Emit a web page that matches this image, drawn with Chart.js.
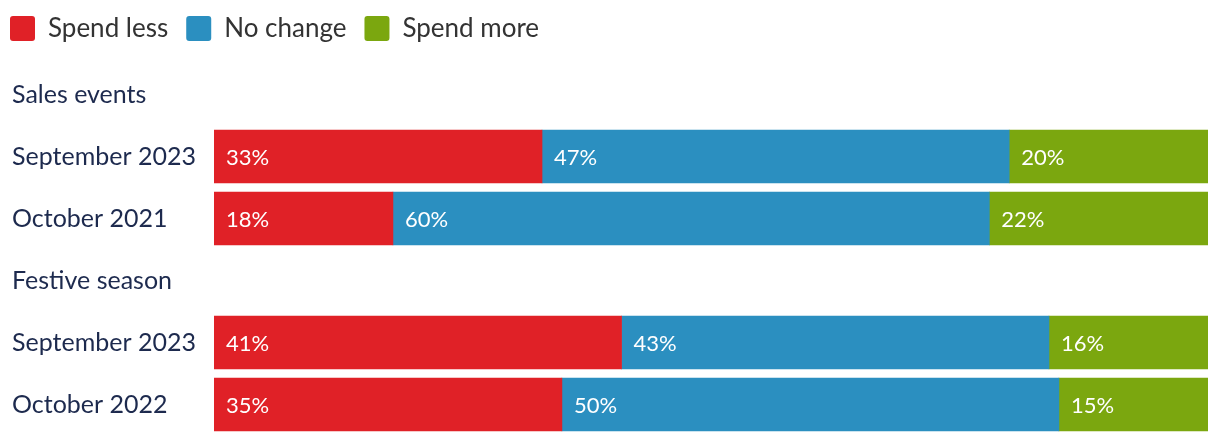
<!DOCTYPE html>
<html>
<head>
<meta charset="utf-8">
<script src="https://cdn.jsdelivr.net/npm/chart.js@4"></script>
<style>
  body { margin: 0; background: #fff; }
  #wrap { width: 1220px; height: 442px; }
</style>
</head>
<body>
<div id="wrap"><canvas id="bars"></canvas></div>
<script>
// rows: group headers have no data
var rows = ['Sales events', 'September 2023', 'October 2021', 'Festive season', 'September 2023', 'October 2022'];
var spendLess = [null, 33, 18, null, 41, 35];
var noChange = [null, 47, 60, null, 43, 50];
var spendMore = [null, 20, 22, null, 16, 15];

var FONT = 'Lato, "Noto Sans", sans-serif';

// white % labels at the left of each segment
const segLabels = {
  id: 'segLabels',
  afterDatasetsDraw(chart) {
    const c = chart.ctx;
    c.save();
    c.fillStyle = '#fff';
    c.font = '22px ' + FONT;
    c.textBaseline = 'middle';
    c.textAlign = 'left';
    chart.data.datasets.forEach((ds, i) => {
      chart.getDatasetMeta(i).data.forEach((bar, j) => {
        if (ds.data[j] == null) return;
        c.fillText(ds.data[j] + '%', Math.min(bar.base, bar.x) + 12, bar.y + 1);
      });
    });
    c.restore();
  }
};

// pull the legend back to the top-left corner
const legendShift = {
  id: 'legendShift',
  afterLayout(chart) {
    chart.legend.left -= 20;
    chart.legend.top -= 12;
  }
};

const ctx = document.getElementById('bars').getContext('2d');
new Chart(ctx, {
  type: 'bar',
  data: {
    labels: rows,
    datasets: [
      { label: 'Spend less', data: spendLess, backgroundColor: '#e02127' },
      { label: 'No change', data: noChange, backgroundColor: '#2b8fc0' },
      { label: 'Spend more', data: spendMore, backgroundColor: '#7ba70f' }
    ]
  },
  options: {
    indexAxis: 'y',
    responsive: true,
    maintainAspectRatio: false,
    animation: false,
    barThickness: 53,
    layout: { padding: { left: 12, right: 12, top: 9.5, bottom: 6.5 } },
    scales: {
      x: { stacked: true, min: 0, max: 100, display: false },
      y: {
        stacked: true,
        grid: { display: false },
        border: { display: false },
        afterFit(axis) {
          axis.width = 202;
          axis.paddingTop = 0;
          axis.paddingBottom = 0;
        },
        ticks: {
          crossAlign: 'far',
          color: '#1d2a4e',
          font: { family: FONT, size: 25 },
          padding: 0
        }
      }
    },
    plugins: {
      tooltip: { enabled: false },
      legend: {
        align: 'start',
        labels: {
          color: '#333',
          font: { family: FONT, size: 26 },
          boxWidth: 25,
          boxHeight: 25,
          padding: 18,
          useBorderRadius: true,
          borderRadius: 3
        }
      }
    }
  },
  plugins: [segLabels, legendShift]
});
</script>
</body>
</html>
